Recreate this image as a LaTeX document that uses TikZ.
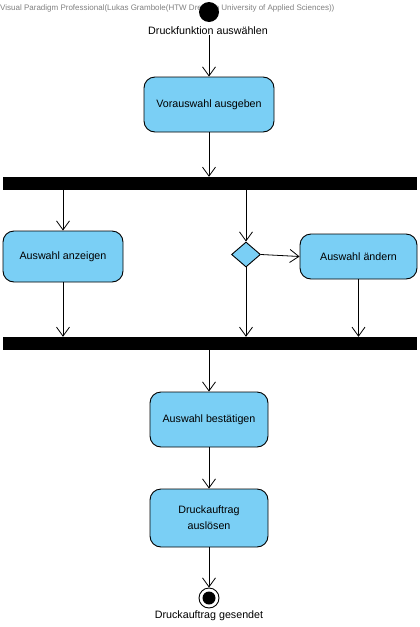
\documentclass[tikz,border=0pt]{standalone}
\usepackage{fontspec}
\setmainfont{Liberation Sans}
\usetikzlibrary{arrows.meta,shapes.geometric}
\definecolor{actblue}{RGB}{122,207,245}
\begin{document}
\begin{tikzpicture}[x=1pt,y=-1pt,
  act/.style={draw=black,fill=actblue,rounded corners=11pt,line width=0.9pt,font=\fontsize{10.7}{16}\selectfont,align=center,inner sep=0pt},
  bar/.style={fill=black,draw=none},
  flow/.style={line width=0.8pt,-{Straight Barb[length=9pt,width=13pt,line width=0.8pt]}},
  lbl/.style={font=\fontsize{10.7}{13}\selectfont,inner sep=0pt}]
\useasboundingbox (0,0) rectangle (420,627);
\node[anchor=west,inner sep=0pt,text=gray,font=\fontsize{8}{9}\selectfont] (wm) at (0,8) {Visual Paradigm Professional(Lukas Grambole(HTW Dresden University of Applied Sciences))};
\node[circle,fill=black,minimum size=20pt,inner sep=0pt] (start) at (209,12) {};
\node[lbl] (startlbl) at (208,31) {Druckfunktion auswählen};
\node[act,minimum width=130pt,minimum height=55pt] (vor) at (209,104.5) {Vorauswahl ausgeben};
\node[bar,minimum width=414pt,minimum height=13pt,inner sep=0pt] (bar1) at (210,183.5) {};
\node[act,minimum width=120pt,minimum height=51pt] (anz) at (63,256.5) {Auswahl anzeigen};
\node[diamond,draw=black,fill=actblue,line width=0.9pt,minimum width=29pt,minimum height=25pt,inner sep=0pt] (dec) at (246,254.5) {};
\node[act,minimum width=117pt,minimum height=45pt] (aend) at (358.5,256.5) {Auswahl ändern};
\node[bar,minimum width=414pt,minimum height=13pt,inner sep=0pt] (bar2) at (210,343.5) {};
\node[act,minimum width=118pt,minimum height=55pt] (best) at (209,419.5) {Auswahl bestätigen};
\node[act,minimum width=118pt,minimum height=58pt] (ausl) at (209,518) {Druckauftrag\\auslösen};
\node[circle,draw=black,line width=0.9pt,fill=white,minimum size=20pt,inner sep=0pt] (end) at (209,598) {};
\node[circle,fill=black,minimum size=13pt,inner sep=0pt] (endin) at (end.center) {};
\node[lbl] (endlbl) at (209,616) {Druckauftrag gesendet};
\draw[flow] (startlbl.south -| vor.north) -- (vor.north);
\draw[flow] (vor.south) -- (vor.south |- bar1.north);
\draw[flow] (anz.north |- bar1.south) -- (anz.north);
\draw[flow] (dec.north |- bar1.south) -- (dec.north);
\draw[flow] (dec.east) -- (aend.west);
\draw[flow] (anz.south) -- (anz.south |- bar2.north);
\draw[flow] (dec.south) -- (dec.south |- bar2.north);
\draw[flow] (aend.south) -- (aend.south |- bar2.north);
\draw[flow] (best.north |- bar2.south) -- (best.north);
\draw[flow] (best.south) -- (ausl.north);
\draw[flow] (ausl.south -| end.north) -- (end.north);
\end{tikzpicture}
\end{document}
